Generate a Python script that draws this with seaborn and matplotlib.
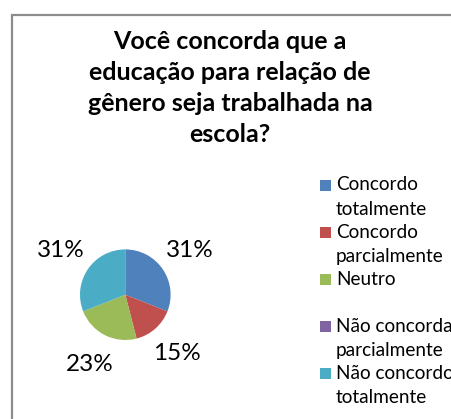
import matplotlib
matplotlib.use("Agg")
import matplotlib.pyplot as plt
import seaborn as sns
from matplotlib.patches import Rectangle

sns.set_theme(style="white")
plt.rcParams['font.family'] = ['Lato', 'DejaVu Sans']

# Data
categories = ["Concordo totalmente", "Concordo parcialmente", "Neutro",
              "Não concorda parcialmente", "Não concordo totalmente"]
legend_lines = [["Concordo", "totalmente"], ["Concordo", "parcialmente"], ["Neutro"],
                ["Não concorda", "parcialmente"], ["Não concordo", "totalmente"]]
values = [31, 15, 23, 0, 31]
colors = ["#4F81BD", "#C0504D", "#9BBB59", "#8064A2", "#4BACC6"]
title = "Você concorda que a\neducação para relação de\ngênero seja trabalhada na\nescola?"

W, H = 452, 419
fig = plt.figure(figsize=(W / 100, H / 100), dpi=100)

# outer border (chart area)
fig.patches.append(Rectangle((12 / W, -0.1), 1.2, 1 - 15 / H + 0.1,
                             transform=fig.transFigure, fill=False,
                             edgecolor="#8c8c8c", linewidth=1.6))

# pie axes
cx, cy, r = 125.3, 294.7, 45.3
aw, ah = 4 * r / W, 4 * r / H
ax = fig.add_axes([cx / W - aw / 2, 1 - cy / H - ah / 2, aw, ah])
nz = [(v, c) for v, c in zip(values, colors) if v > 0]
wedges, texts, autotexts = ax.pie([v for v, _ in nz], colors=[c for _, c in nz],
                                  startangle=90, counterclock=False,
                                  autopct=lambda p: f"{p:.0f}%", pctdistance=1.72,
                                  radius=1, wedgeprops=dict(linewidth=0))
for t in autotexts:
    t.set_fontsize(17.5)
    t.set_color("black")
ax.set_xlim(-2, 2)
ax.set_ylim(-2, 2)
ax.set_aspect("equal")
ax.axis("off")

# title
fig.text(230 / W, 1 - 88 / H, title, ha="center", va="center", fontsize=18,
         fontweight="bold", linespacing=1.42, color="black")

# legend (manual, Excel-like)
for i, (lines, c) in enumerate(zip(legend_lines, colors)):
    y0 = 185 + 47.2 * i
    fig.patches.append(Rectangle((320 / W, 1 - (y0 + 5.5) / H), 11 / W, 11 / H,
                                 transform=fig.transFigure, facecolor=c, edgecolor="none"))
    for j, line in enumerate(lines):
        fig.text(336 / W, 1 - (y0 + 24 * j) / H, line, ha="left", va="center",
                 fontsize=13.7, color="black")

fig.savefig("out.png", dpi=100, facecolor="white")
